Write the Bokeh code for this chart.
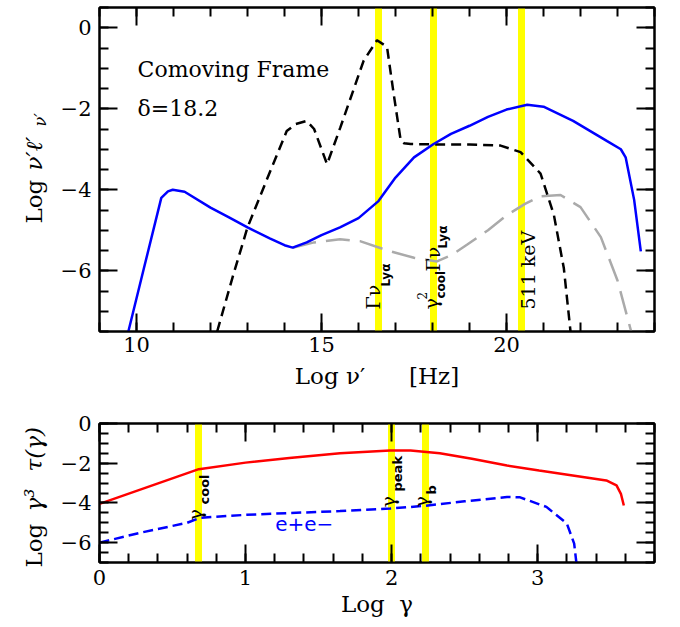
import numpy as np
from bokeh.plotting import figure
from bokeh.layouts import column, row
from bokeh.models import Label, LinearAxis, SingleIntervalTicker, Range1d, CustomLabelingPolicy
from bokeh.embed import file_html
from bokeh.resources import INLINE

# ---------------- upper panel: comoving-frame SED ----------------
sed_x = [9.78, 10.2, 10.67, 10.85, 10.98, 11.3, 12.0, 12.5, 13.0, 13.6, 14.0, 14.22,
         14.6, 15.0, 15.5, 16.0, 16.54, 17.0, 17.5, 18.03, 18.5, 19.0, 19.5, 20.0,
         20.56, 21.0, 21.8, 22.72, 23.09, 23.22, 23.45, 23.63]
sed_y = [-7.5, -5.94, -4.2, -4.04, -4.0, -4.05, -4.44, -4.68, -4.93, -5.2, -5.37, -5.43,
         -5.3, -5.12, -4.93, -4.7, -4.28, -3.7, -3.2, -2.87, -2.62, -2.42, -2.2, -2.02,
         -1.9, -1.95, -2.3, -2.8, -3.0, -3.2, -4.25, -5.52]

ext_x = [12.18, 12.6, 13.0, 13.5, 14.06, 14.3, 14.6, 14.8, 15.15, 15.51, 16.14, 16.5,
         16.77, 16.95, 17.14, 17.23, 17.41, 18.0, 19.0, 19.84, 20.38, 20.92, 21.28,
         21.55, 21.73]
ext_y = [-7.5, -6.15, -4.93, -3.8, -2.55, -2.38, -2.3, -2.5, -3.37, -2.46, -0.81, -0.31,
         -0.47, -1.63, -2.78, -2.85, -2.87, -2.88, -2.88, -2.91, -3.07, -3.6, -4.62,
         -5.94, -7.5]

ssc_x = [14.22, 14.8, 15.5, 16.04, 16.86, 17.5, 18.12, 18.5, 18.93, 19.5, 20.02, 20.5,
         20.92, 21.46, 22.0, 22.55, 23.0, 23.37]
ssc_y = [-5.43, -5.3, -5.22, -5.27, -5.52, -5.68, -5.77, -5.62, -5.36, -5.0, -4.62, -4.35,
         -4.16, -4.13, -4.43, -5.17, -6.24, -7.5]

nu_lya = 16.54
nu_cool_lya = 18.03
nu_511 = 20.4

# ---------------- lower panel: particle distribution ----------------
elec_x = [0.0, 0.68, 1.0, 1.3, 1.647, 1.99, 2.13, 2.33, 2.55, 2.79, 3.01, 3.24, 3.47,
          3.54, 3.57, 3.59]
elec_y = [-4.05, -2.3, -1.97, -1.74, -1.5, -1.36, -1.36, -1.5, -1.78, -2.12, -2.37, -2.62,
          -2.87, -3.12, -3.54, -4.13]

pair_x = [0.0, 0.28, 0.6, 0.69, 1.0, 1.647, 1.99, 2.22, 2.5, 2.79, 2.88, 3.06, 3.2,
          3.25, 3.265]
pair_y = [-6.0, -5.5, -5.0, -4.75, -4.6, -4.41, -4.28, -4.15, -3.92, -3.7, -3.72, -4.2,
          -5.04, -6.05, -7.0]

g_cool = 0.68
g_peak = 2.0
g_b = 2.23

SERIF = "DejaVu Serif"
SANS = "DejaVu Sans"
MINUS = {0: "0", -2: "\u22122", -4: "\u22124", -6: "\u22126"}
NO_LABELS = CustomLabelingPolicy(code="""
for (let i = 0; i < indices.size; i++) indices.unset(i)
return indices
""")
STRIP_W = 57


def frame_axes(p, xint, xminor, yint, yminor):
    p.xgrid.visible = False
    p.ygrid.visible = False
    p.outline_line_color = "black"
    p.outline_line_width = 2
    p.background_fill_color = "white"
    p.border_fill_color = "white"
    p.xaxis.ticker = SingleIntervalTicker(interval=xint, num_minor_ticks=xminor)
    p.yaxis.ticker = SingleIntervalTicker(interval=yint, num_minor_ticks=yminor)
    p.add_layout(LinearAxis(ticker=SingleIntervalTicker(interval=xint, num_minor_ticks=xminor)), "above")
    p.add_layout(LinearAxis(ticker=SingleIntervalTicker(interval=yint, num_minor_ticks=yminor)), "right")
    for ax in p.axis:
        ax.major_tick_in = 18
        ax.major_tick_out = 0
        ax.minor_tick_in = 9
        ax.minor_tick_out = 0
        ax.axis_line_width = 2
        ax.major_tick_line_width = 2
        ax.minor_tick_line_width = 2
        ax.major_label_text_font = SERIF
        ax.major_label_text_font_size = "21px"
        ax.major_label_text_color = "black"
        ax.axis_label_text_font = SERIF
        ax.axis_label_text_font_size = "23px"
        ax.axis_label_text_font_style = "normal"
        ax.axis_label_text_color = "black"
    # mirrored tick marks on the top and right edges, without numbers
    for ax in p.above + p.right:
        ax.major_label_policy = NO_LABELS
        ax.major_label_text_font_size = "0px"
        ax.major_label_standoff = 0
    p.left[0].major_label_standoff = 8
    p.left[0].major_label_overrides = MINUS


def rot(p, x, y, text, dx, dy, size, font=SERIF, style="normal", color="black"):
    p.add_layout(Label(x=x, y=y, x_offset=dx, y_offset=dy, text=text, angle=np.pi / 2,
                       text_font=font, text_font_size=size, text_font_style=style,
                       text_color=color, text_align="left", text_baseline="alphabetic"))


def flat(p, x, y, text, size, font=SERIF, style="normal", color="black", baseline="alphabetic"):
    p.add_layout(Label(x=x, y=y, text=text,
                       text_font=font, text_font_size=size, text_font_style=style,
                       text_color=color, text_align="left", text_baseline=baseline))


# ---------------- upper figure ----------------
p1 = figure(width=680 - STRIP_W, height=400, x_range=Range1d(9, 24), y_range=Range1d(-7.5, 0.5),
            output_backend="svg", toolbar_location=None,
            min_border_left=99 - STRIP_W, min_border_right=26, min_border_top=7, min_border_bottom=69)
frame_axes(p1, 5, 5, 2, 4)
p1.below[0].major_label_standoff = 5
p1.below[0].axis_label = "Log\u00a0\u03bd\u2032\u00a0\u00a0\u00a0\u00a0\u00a0\u00a0[Hz]"
p1.below[0].axis_label_standoff = 8

p1.vspan(x=[nu_lya, nu_cool_lya, nu_511], line_color="#ffff00", line_width=7)
p1.line(ssc_x, ssc_y, line_color="#aaaaaa", line_width=2.5, line_dash="24 10")
p1.line(ext_x, ext_y, line_color="black", line_width=2.5, line_dash="10 6")
p1.line(sed_x, sed_y, line_color="#0000ff", line_width=2.5)

flat(p1, 10.03, -1.04, "Comoving Frame", "22px")
flat(p1, 10.03, -2.0, "\u03b4=18.2", "22px")

ybot = -7.5
rot(p1, nu_lya, ybot, "\u0393\u03bd", -5, 22, "19px")
rot(p1, nu_lya, ybot, "Ly\u03b1", 8, 45, "12px", font=SANS, style="bold")
rot(p1, nu_cool_lya, ybot, "\u03b3", -3, 22, "19px")
rot(p1, nu_cool_lya, ybot, "2", -12, 32, "12px")
rot(p1, nu_cool_lya, ybot, "cool", 7, 33, "12px", font=SANS, style="bold")
rot(p1, nu_cool_lya, ybot, "\u0393\u03bd", -1, 60, "19px")
rot(p1, nu_cool_lya, ybot, "Ly\u03b1", 9, 83, "12px", font=SANS, style="bold")
rot(p1, nu_511, ybot, "511 keV", 7, 22, "19px")

# ---------------- lower figure ----------------
p2 = figure(width=680 - STRIP_W, height=227, x_range=Range1d(0, 3.8), y_range=Range1d(-7, 0),
            output_backend="svg", toolbar_location=None,
            min_border_left=99 - STRIP_W, min_border_right=26, min_border_top=23, min_border_bottom=65)
frame_axes(p2, 1, 5, 2, 4)
p2.below[0].major_label_standoff = 7
p2.below[0].axis_label = "Log\u00a0\u00a0\u03b3"
p2.below[0].axis_label_standoff = 3

p2.vspan(x=[g_cool, g_peak, g_b], line_color="#ffff00", line_width=7)
p2.line(elec_x, elec_y, line_color="#ff0000", line_width=2.5)
p2.line(pair_x, pair_y, line_color="#0000ff", line_width=2.5, line_dash="10 5")

flat(p2, 1.203, -5.04, "e+e\u2212", "20px", font=SANS, color="#0000ff", baseline="middle")

ylo = -7
rot(p2, g_cool, ylo, "\u03b3", -4, 42, "19px")
rot(p2, g_cool, ylo, "cool", 6, 58, "13px", font=SANS, style="bold")
rot(p2, g_peak, ylo, "\u03b3", -4, 55, "19px")
rot(p2, g_peak, ylo, "peak", 6, 71, "13px", font=SANS, style="bold")
rot(p2, g_b, ylo, "\u03b3", -4, 55, "19px")
rot(p2, g_b, ylo, "b", 6, 68, "13px", font=SANS, style="bold")

# ---------------- strip holding the vertical axis titles ----------------
# coordinates here are pixels of the whole page (y counted downward)
ytitles = figure(width=STRIP_W, height=627, x_range=Range1d(0, STRIP_W), y_range=Range1d(627, 0),
                 output_backend="svg", toolbar_location=None,
                 x_axis_location=None, y_axis_location=None,
                 min_border_left=0, min_border_right=0, min_border_top=0, min_border_bottom=0)
ytitles.xgrid.visible = False
ytitles.ygrid.visible = False
ytitles.outline_line_color = None
ytitles.border_fill_color = "white"

rot(ytitles, 33, 223, "Log", 0, 0, "23px")
rot(ytitles, 33, 170, "\u03bd\u2032\u2113\u2032", 0, 0, "23px", style="italic")
rot(ytitles, 40, 126, "\u03bd\u2032", 0, 0, "16px", style="italic")
rot(ytitles, 33, 567, "Log", 0, 0, "23px")
rot(ytitles, 33, 511, "\u03b3\u00b3", 0, 0, "23px", style="italic")
rot(ytitles, 33, 471, "\u03c4(\u03b3)", 0, 0, "23px", style="italic")

layout = row(ytitles, column(p1, p2, spacing=0), spacing=0)
open("out.html", "w").write(file_html(layout, INLINE))
